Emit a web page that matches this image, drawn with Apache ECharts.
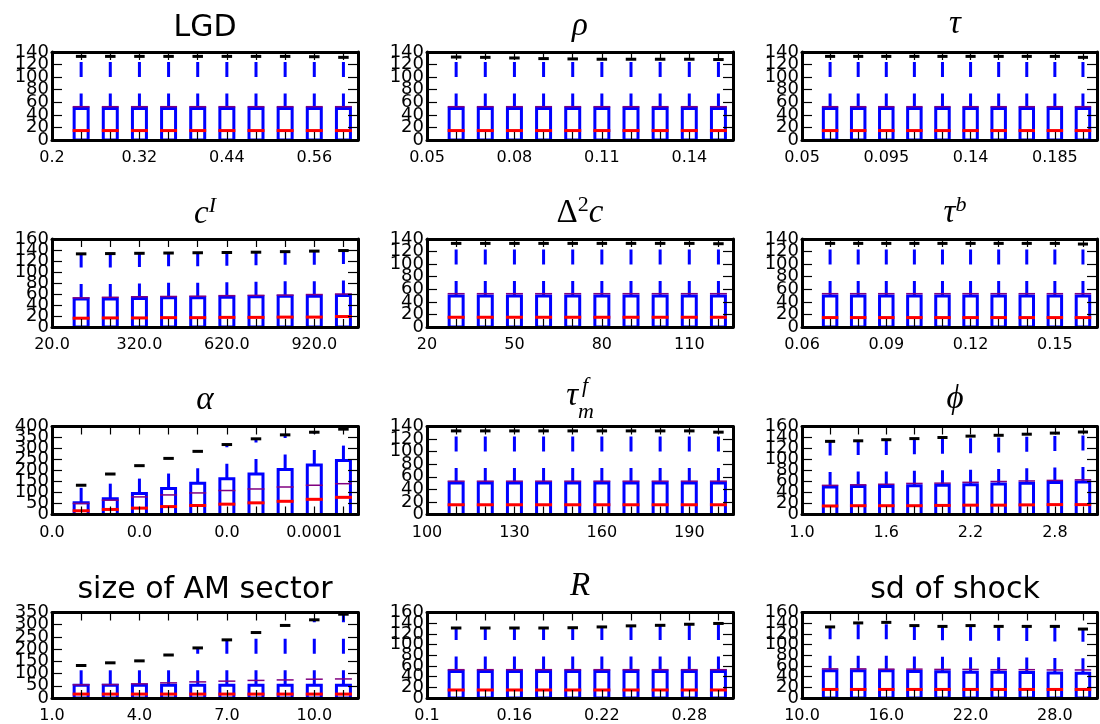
<!DOCTYPE html>
<html><head><meta charset="utf-8">
<script src="https://cdn.jsdelivr.net/npm/echarts@6/dist/echarts.min.js"></script>
<style>html,body{margin:0;padding:0;background:#fff}#c{width:1100px;height:724px}</style>
</head><body><div id="c"></div>
<script>
// ---------- data ----------
const positions = [1, 2, 3, 4, 5, 6, 7, 8, 9, 10];

const LGD_labels = ['0.2', '0.32', '0.44', '0.56'];
const LGD_cap  = [133, 133, 133, 133, 133, 133, 133, 133, 132.5, 131.5];
const LGD_q3   = [50, 50, 50, 50, 50, 50, 50, 50, 50, 50];
const LGD_med  = [15, 15, 15, 15, 15, 15, 15, 15, 15, 15];
const LGD_mean = [53, 53, 53, 53, 53, 53, 53, 53, 53, 53];

const rho_labels = ['0.05', '0.08', '0.11', '0.14'];
const rho_cap  = [132, 131.5, 130.5, 129.5, 129, 128.5, 128.5, 128.5, 128.5, 128];
const rho_q3   = [50, 50, 50, 50, 50, 50, 50, 50, 50, 50];
const rho_med  = [15, 15, 15, 15, 15, 15, 15, 15, 15, 15];
const rho_mean = [53, 53, 53, 53, 53, 53, 53, 53, 53, 53];

const tau_labels = ['0.05', '0.095', '0.14', '0.185'];
const tau_cap  = [133, 133, 133, 133, 133, 133, 133, 133, 133, 131.5];
const tau_q3   = [50, 50, 50, 50, 50, 50, 50, 50, 50, 50];
const tau_med  = [15, 15, 15, 15, 15, 15, 15, 15, 15, 15];
const tau_mean = [53, 53, 53, 53, 53, 53, 53, 53, 53, 53];

const cI_labels = ['20.0', '320.0', '620.0', '920.0'];
const cI_cap  = [133, 133.5, 134, 134.5, 135, 135.5, 136, 137, 138, 139];
const cI_q3   = [51, 51, 52, 53, 53, 54, 55, 56, 56, 57.5];
const cI_med  = [16, 16.5, 16.5, 17, 17, 17.5, 17.5, 18, 18, 19];
const cI_mean = [53, 54, 55, 55.5, 56, 57, 57.5, 58, 59, 60];

const d2c_labels = ['20', '50', '80', '110'];
const d2c_cap  = [133, 133, 133, 133, 133, 133, 133, 133, 133, 132.5];
const d2c_q3   = [49.5, 49.5, 49.5, 49.5, 49.5, 49.5, 49.5, 49.5, 49.5, 49.5];
const d2c_med  = [15.5, 15.5, 15.5, 15.5, 15.5, 15.5, 15.5, 15.5, 15.5, 15.5];
const d2c_mean = [53, 53, 53, 53, 53, 53, 53, 53, 53, 53];

const taub_labels = ['0.06', '0.09', '0.12', '0.15'];
const taub_cap  = [133, 133, 133, 133, 133, 133, 133, 133, 133, 132];
const taub_q3   = [49.5, 49.5, 49.5, 49.5, 49.5, 49.5, 49.5, 49.5, 49.5, 49.5];
const taub_med  = [15, 15, 15, 15, 15, 15, 15, 15, 15, 15];
const taub_mean = [53, 53, 53, 53, 53, 53, 53, 53, 53, 53];

const alpha_labels = ['0.0', '0.0', '0.0', '0.0001'];
const alpha_cap  = [133, 184, 222, 255, 287, 318, 344, 362, 374, 388];
const alpha_q3   = [53, 72, 95, 118, 142, 163, 184, 205, 225, 245];
const alpha_med  = [17, 23, 29, 36, 41, 47, 53, 60, 69, 78];
const alpha_mean = [50, 65, 80, 89, 98, 109, 116, 125, 133, 140];

const taumf_labels = ['100', '130', '160', '190'];
const taumf_cap  = [133, 133, 133, 133, 133, 133, 133, 133, 133, 131];
const taumf_q3   = [50, 50, 50, 50, 50, 50, 50, 50, 50, 50];
const taumf_med  = [15.5, 15.5, 15.5, 15.5, 15.5, 15.5, 15.5, 15.5, 15.5, 15.5];
const taumf_mean = [53, 53, 53, 53, 53, 53, 53, 53, 53, 53];

const phi_labels = ['1.0', '1.6', '2.2', '2.8'];
const phi_cap  = [133, 134, 136, 138, 140, 142.5, 144, 146, 148, 150];
const phi_q3   = [50, 51, 51, 52.5, 53, 54, 55.5, 57, 58, 59];
const phi_med  = [15.5, 16, 16, 16, 16.5, 17, 17, 17.5, 18, 18];
const phi_mean = [53, 54, 55, 56.5, 57, 58.5, 60, 61, 62, 63];

const am_labels = ['1.0', '4.0', '7.0', '10.0'];
const am_cap  = [133, 144, 152, 176, 205, 238, 268, 297, 320, 343];
const am_q3   = [52, 52, 52, 52, 52, 52, 52, 52, 52, 52];
const am_med  = [16, 16, 16, 16, 16, 16, 16, 16, 16, 16];
const am_mean = [54, 55, 58, 62, 66, 69, 72, 74, 77, 78];

const R_labels = ['0.1', '0.16', '0.22', '0.28'];
const R_cap  = [131, 131, 131, 131, 131.5, 133, 135, 136, 138, 139.5];
const R_q3   = [49.5, 49.5, 49.5, 49.5, 49.5, 49.5, 49.5, 49.5, 49.5, 49.5];
const R_med  = [15, 15, 15, 15, 15, 15, 15, 15, 15, 15];
const R_mean = [53, 53, 53, 53, 53, 53, 53, 53, 53, 53];

const sd_labels = ['10.0', '16.0', '22.0', '28.0'];
const sd_cap  = [133, 140.5, 141.5, 135.5, 134, 135.5, 134, 134, 134, 129];
const sd_q3   = [51, 51, 51, 49.5, 49, 48, 48, 47.5, 47, 46.5];
const sd_med  = [16, 16, 16, 16, 16, 16, 16, 16, 16, 16];
const sd_mean = [54.5, 54.5, 54, 54, 53.5, 53.5, 53, 53, 52.5, 52.5];

// y-axis ranges: [max, interval]
const yRanges = [[140, 20], [140, 20], [140, 20],
                 [160, 20], [140, 20], [140, 20],
                 [400, 50], [140, 20], [160, 20],
                 [350, 50], [160, 20], [160, 20]];

// ---------- panel table built from the arrays ----------
const panels = [
  [LGD_labels, LGD_med, LGD_q3, LGD_cap, LGD_mean],
  [rho_labels, rho_med, rho_q3, rho_cap, rho_mean],
  [tau_labels, tau_med, tau_q3, tau_cap, tau_mean],
  [cI_labels, cI_med, cI_q3, cI_cap, cI_mean],
  [d2c_labels, d2c_med, d2c_q3, d2c_cap, d2c_mean],
  [taub_labels, taub_med, taub_q3, taub_cap, taub_mean],
  [alpha_labels, alpha_med, alpha_q3, alpha_cap, alpha_mean],
  [taumf_labels, taumf_med, taumf_q3, taumf_cap, taumf_mean],
  [phi_labels, phi_med, phi_q3, phi_cap, phi_mean],
  [am_labels, am_med, am_q3, am_cap, am_mean],
  [R_labels, R_med, R_q3, R_cap, R_mean],
  [sd_labels, sd_med, sd_q3, sd_cap, sd_mean]
];

// ---------- layout ----------
const colLeft = [52, 427, 802];
const rowTop = [52, 239, 426.5, 612.5];
const GW = 306, GH = 88;

// titles: rich text + baseline offset from grid top
const titles = [
  ['{t|LGD}', -13.5], ['{i|ρ}', -14.5], ['{i|τ}', -16],
  ['{i|c}{sup|I}', -13.5], ['{u|Δ}{supu|2}{i|c}', -14.5], ['{i|τ}{sup|b}', -14],
  ['{i|α}', -14.5], [null, 0], ['{i|ϕ}', -15.5],
  ['{t|size of AM sector}', -12.5], ['{i|R}', -15], ['{t|sd of shock}', -12.5]
];
const MF = 'Liberation Serif';
const rich = {
  t: {fontFamily: 'DejaVu Sans', fontSize: 30, verticalAlign: 'bottom', fill: '#000'},
  i: {fontFamily: MF, fontStyle: 'italic', fontSize: 33, verticalAlign: 'bottom', fill: '#000'},
  ip: {fontFamily: MF, fontStyle: 'italic', fontSize: 33, verticalAlign: 'bottom', fill: '#000', padding: [0, 0, 11, 0]},
  u: {fontFamily: MF, fontSize: 33, verticalAlign: 'bottom', fill: '#000'},
  sup: {fontFamily: MF, fontStyle: 'italic', fontSize: 22, verticalAlign: 'bottom', fill: '#000', padding: [0, 0, 14, 0]},
  supu: {fontFamily: MF, fontSize: 22, verticalAlign: 'bottom', fill: '#000', padding: [0, 0, 14, 0]},
  sub: {fontFamily: MF, fontStyle: 'italic', fontSize: 22, verticalAlign: 'bottom', fill: '#000'}
};

const grids = [], xAxes = [], yAxes = [], series = [], graphics = [];

function renderItem(params, api) {
  const x = api.value(0), med = api.value(1), q3 = api.value(2), cap = api.value(3), mean = api.value(4);
  const HW = 0.24, CW = 0.18;
  const a = api.coord([x - HW, 0]), b = api.coord([x + HW, q3]);
  const m0 = api.coord([x - HW, med]), m1 = api.coord([x + HW, med]);
  const e0 = api.coord([x - HW, mean]), e1 = api.coord([x + HW, mean]);
  const w0 = api.coord([x, q3]), w1 = api.coord([x, cap]);
  const c0 = api.coord([x - CW, cap]), c1 = api.coord([x + CW, cap]);
  return {type: 'group', children: [
    {type: 'rect', shape: {x: a[0], y: b[1], width: b[0] - a[0], height: a[1] - b[1]},
     style: {fill: 'none', stroke: '#0000ff', lineWidth: 3}},
    {type: 'line', shape: {x1: w0[0], y1: w0[1], x2: w1[0], y2: w1[1]},
     style: {stroke: '#0000ff', lineWidth: 3, lineDash: [15, 16.5]}},
    {type: 'line', shape: {x1: m0[0] - 1.5, y1: m0[1], x2: m1[0] + 1.5, y2: m1[1]},
     style: {stroke: '#ff0000', lineWidth: 3}},
    {type: 'line', shape: {x1: e0[0] - 1.5, y1: e0[1], x2: e1[0] + 1.5, y2: e1[1]},
     style: {stroke: '#800080', lineWidth: 1.5}},
    {type: 'line', shape: {x1: c0[0], y1: c0[1], x2: c1[0], y2: c1[1]},
     style: {stroke: '#000', lineWidth: 3}}
  ]};
}

const yLabelStyle = {margin: 3, fontFamily: 'DejaVu Sans', fontSize: 18, color: '#000'};

panels.forEach((p, i) => {
  const [labels, med, q3, cap, mean] = p;
  const r = Math.floor(i / 3), c = i % 3;
  const left = colLeft[c], top = rowTop[r];
  grids.push({left: left, top: top, width: GW, height: GH, containLabel: false});
  const lineStyle = {color: '#000', width: 3};
  ['bottom', 'top'].forEach(pos => {
    xAxes.push({
      type: 'value', gridIndex: i, position: pos, min: 0, max: 10.5, interval: 1, z: 10,
      axisLine: {show: true, onZero: false, lineStyle: lineStyle},
      axisTick: {show: true, inside: true, length: 8, lineStyle: {color: '#000', width: 1.2}},
      axisLabel: {show: pos === 'bottom', margin: 10, fontFamily: 'DejaVu Sans', fontSize: 16, color: '#000',
        showMinLabel: true, hideOverlap: false,
        formatter: v => (Math.abs(v % 3) < 1e-9 && v / 3 < labels.length) ? labels[Math.round(v / 3)] : ''},
      splitLine: {show: false}
    });
  });
  const [ymax, yint] = yRanges[i];
  const base = yAxes.length;
  // left axis: frame line, inside ticks, interior labels
  yAxes.push({
    type: 'value', gridIndex: i, position: 'left', min: 0, max: ymax, interval: yint, z: 10,
    axisLine: {show: true, onZero: false, lineStyle: lineStyle},
    axisTick: {show: true, inside: true, length: 10, lineStyle: {color: '#000', width: 1.2}},
    axisLabel: Object.assign({show: true, showMinLabel: false, showMaxLabel: false}, yLabelStyle),
    splitLine: {show: false}
  });
  // right axis: frame line + inside ticks
  yAxes.push({
    type: 'value', gridIndex: i, position: 'right', min: 0, max: ymax, interval: yint, z: 10,
    axisLine: {show: true, onZero: false, lineStyle: lineStyle},
    axisTick: {show: true, inside: true, length: 10, lineStyle: {color: '#000', width: 1.2}},
    axisLabel: {show: false},
    splitLine: {show: false}
  });
  // extra left axis only carrying the end labels (0 and max)
  yAxes.push({
    type: 'value', gridIndex: i, position: 'left', offset: 0, min: 0, max: ymax, interval: ymax, z: 10,
    axisLine: {show: false, onZero: false}, axisTick: {show: false},
    axisLabel: Object.assign({show: true, showMinLabel: true, showMaxLabel: true}, yLabelStyle),
    splitLine: {show: false}
  });
  series.push({
    type: 'custom', xAxisIndex: 2 * i, yAxisIndex: base, z: 2,
    renderItem: renderItem,
    data: positions.map((x, k) => [x, med[k], q3[k], cap[k], mean[k]])
  });
  const cx = left + GW / 2;
  const t = titles[i];
  if (t[0]) {
    const F = t[0].indexOf('{t|') === 0 ? 30 : 33;
    graphics.push({type: 'text', x: cx, y: top + t[1] + 0.16 * F,
      style: {text: t[0], rich: rich, align: 'center', verticalAlign: 'bottom', fill: '#000'}});
  } else {
    // tau_m^f : tau with subscript m, superscript f stacked above it
    graphics.push({type: 'text', x: cx, y: top - 3,
      style: {text: '{ip|τ}{sub|m}', rich: rich, align: 'center', verticalAlign: 'bottom', fill: '#000'}});
    graphics.push({type: 'text', x: cx + 2, y: top - 29,
      style: {text: 'f', fontFamily: MF, fontStyle: 'italic', fontSize: 22, align: 'left', verticalAlign: 'bottom', fill: '#000'}});
  }
});

const chart = echarts.init(document.getElementById('c'), null, {renderer: 'canvas'});
chart.setOption({
  animation: false,
  backgroundColor: '#fff',
  grid: grids, xAxis: xAxes, yAxis: yAxes, series: series, graphic: graphics
});
</script>
</body></html>
